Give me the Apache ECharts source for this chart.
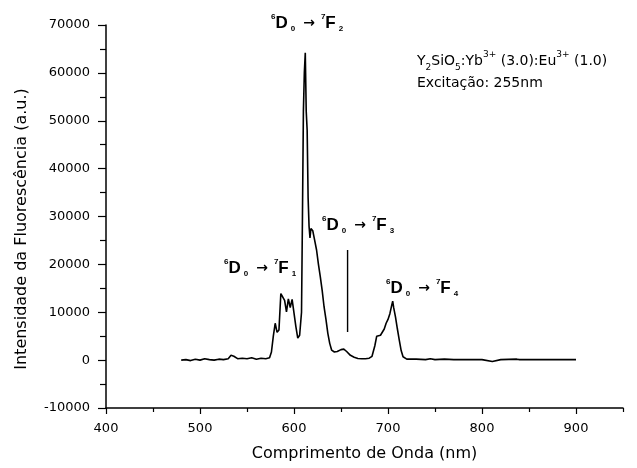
<!DOCTYPE html>
<html>
<head>
<meta charset="utf-8">
<script src="https://cdn.jsdelivr.net/npm/echarts@6/dist/echarts.min.js"></script>
<style>
  html, body { margin: 0; padding: 0; background: #fff; }
  #chart { width: 637px; height: 468px; }
</style>
</head>
<body>
<div id="chart"></div>
<script>
// Emission spectrum of Y2SiO5:Yb3+(3.0):Eu3+(1.0), excited at 255 nm
const wavelength = [
  480, 485, 490, 495, 500, 505, 510, 515, 520, 525, 530, 533, 536, 540, 545, 550, 555, 560, 565, 570,
  574, 576, 578, 580, 582, 584, 586, 588, 590, 592, 594, 596, 598, 600, 602, 604, 606, 608, 609, 610,
  611, 612, 613, 614, 615, 616, 617, 618, 619, 620, 621, 622, 624, 626, 628, 630, 632, 634, 636, 638,
  640, 643, 646, 650, 653, 656, 660, 664, 668, 672, 676, 680, 683, 686, 688, 690, 692, 694, 696, 698,
  700, 702, 704, 705, 706, 708, 710, 712, 714, 716, 718, 720, 730, 740, 745, 750, 760, 762, 770, 780,
  800, 811, 812, 820, 837, 840, 860, 880, 900
];
const intensity = [
  0, 100, -100, 200, 0, 300, 100, 0, 200, 100, 300, 1000, 800, 300, 400, 300, 500, 200, 400, 300,
  500, 1700, 5000, 7700, 5800, 6300, 13900, 13500, 12500, 10100, 12800, 11000, 12700, 12500, 7000, 4600, 5200, 10000, 30000, 52000,
  60000, 64200, 52000, 48000, 34000, 28000, 25500, 27500, 27800, 27000, 26000, 25000, 23000, 20000, 17400, 14500, 11100, 8500, 5600, 3500,
  2100, 1700, 1800, 2200, 2300, 1800, 1000, 600, 350, 300, 300, 400, 800, 3000, 5000, 4700, 5200, 5500, 6500, 7700,
  8500, 9700, 11500, 12300, 11000, 9000, 6500, 4200, 2000, 700, 400, 200, 200, 100, 300, 100, 200, 300, 100, 100,
  100, -300, 100, 100, 200, 100, 100, 100, 100
];

// Vertical guide drawn under the 5D0 -> 7F3 label
const guideWavelength = [657, 657];
const guideIntensity = [23000, 5900];

// Axis ticks
const xMajorTicks = [400, 500, 600, 700, 800, 900];
const xMinorTicks = [450, 550, 650, 750, 850, 950];
const yMajorTicks = [-10000, 0, 10000, 20000, 30000, 40000, 50000, 60000, 70000];
const yMinorTicks = [-5000, 5000, 15000, 25000, 35000, 45000, 55000, 65000];

// Final 7F level of each transition label
const transitionLevels = ['2', '1', '3', '4'];

const FONT = 'DejaVu Sans';
const LABEL_FONT = 'Liberation Sans';

const chart = echarts.init(document.getElementById('chart'), null, { renderer: 'canvas' });

const spectrum = wavelength.map((w, i) => [w, intensity[i]]);
const guide = guideWavelength.map((w, i) => [w, guideIntensity[i]]);

const richTransition = {
  sup: { fontSize: 8, fontFamily: LABEL_FONT, fontWeight: 'bold', lineHeight: 8, verticalAlign: 'top', color: '#000' },
  big: { fontSize: 17, fontFamily: LABEL_FONT, fontWeight: 'bold', lineHeight: 20, color: '#000' },
  sub: { fontSize: 8, fontFamily: LABEL_FONT, fontWeight: 'bold', lineHeight: 8, verticalAlign: 'bottom', color: '#000', padding: [0, 0, 0, 3] },
  arr: { fontSize: 14, fontFamily: 'DejaVu Sans', fontWeight: 'bold', lineHeight: 20, color: '#000', padding: [0, 6, 0, 8] }
};

function transitionLabel(level, x, y) {
  return {
    type: 'text',
    x: x,
    y: y,
    style: {
      text: '{sup|6}{big|D}{sub|0}{arr|→}{sup|7}{big|F}{sub|' + level + '}',
      rich: richTransition,
      verticalAlign: 'middle',
      align: 'left'
    }
  };
}

const labelAnchors = [[271, 23], [224, 268], [322, 225], [386, 288]];

const graphics = transitionLevels.map((lv, i) => transitionLabel(lv, labelAnchors[i][0], labelAnchors[i][1]));

const richFormula = {
  n: { fontSize: 14, fontFamily: FONT, lineHeight: 22, color: '#000' },
  s: { fontSize: 9, fontFamily: FONT, lineHeight: 9, verticalAlign: 'bottom', color: '#000' },
  p: { fontSize: 9, fontFamily: FONT, lineHeight: 9, verticalAlign: 'top', color: '#000' }
};

graphics.push({
  type: 'text',
  x: 417,
  y: 61,
  style: {
    text: '{n|Y}{s|2}{n|SiO}{s|5}{n|:Yb}{p|3+}{n| (3.0):Eu}{p|3+}{n| (1.0)}',
    rich: richFormula,
    verticalAlign: 'middle'
  }
});
graphics.push({
  type: 'text',
  x: 417,
  y: 83,
  style: {
    text: 'Excitação: 255nm',
    fontSize: 14,
    fontFamily: FONT,
    fill: '#000',
    verticalAlign: 'middle'
  }
});
graphics.push({
  type: 'text',
  x: 22,
  y: 229,
  rotation: Math.PI / 2,
  style: {
    text: 'Intensidade da Fluorescência (a.u.)',
    fontSize: 16,
    fontFamily: FONT,
    fill: '#000',
    align: 'center',
    verticalAlign: 'middle'
  }
});

const axisLineStyle = { color: '#000', width: 1.5 };
const plainNumber = v => String(v);

chart.setOption({
  animation: false,
  backgroundColor: '#fff',
  grid: { left: 106, right: 14, top: 25, bottom: 60, containLabel: false },
  xAxis: [
    {
      type: 'value', min: 400, max: 950, position: 'bottom',
      axisLine: { show: true, onZero: false, lineStyle: axisLineStyle },
      axisTick: { show: true, customValues: xMajorTicks, length: 6, lineStyle: { color: '#000', width: 1.2 } },
      axisLabel: { customValues: xMajorTicks, formatter: plainNumber, margin: 14, fontSize: 13, fontFamily: FONT, color: '#000' },
      splitLine: { show: false },
      name: 'Comprimento de Onda (nm)',
      nameLocation: 'middle',
      nameGap: 38,
      nameTextStyle: { fontSize: 16, fontFamily: FONT, color: '#000' }
    },
    {
      type: 'value', min: 400, max: 950, position: 'bottom', offset: 0,
      axisLine: { show: false, onZero: false },
      axisTick: { show: true, customValues: xMinorTicks, length: 4, lineStyle: { color: '#000', width: 1.2 } },
      axisLabel: { show: false },
      splitLine: { show: false }
    }
  ],
  yAxis: [
    {
      type: 'value', min: -10000, max: 70000, position: 'left',
      axisLine: { show: true, onZero: false, lineStyle: axisLineStyle },
      axisTick: { show: true, customValues: yMajorTicks, length: 8, lineStyle: { color: '#000', width: 1.2 } },
      axisLabel: { customValues: yMajorTicks, formatter: plainNumber, margin: 16, fontSize: 13, fontFamily: FONT, color: '#000' },
      splitLine: { show: false }
    },
    {
      type: 'value', min: -10000, max: 70000, position: 'left', offset: 0,
      axisLine: { show: false, onZero: false },
      axisTick: { show: true, customValues: yMinorTicks, length: 6, lineStyle: { color: '#000', width: 1.2 } },
      axisLabel: { show: false },
      splitLine: { show: false }
    }
  ],
  series: [
    {
      type: 'line', xAxisIndex: 0, yAxisIndex: 0,
      data: spectrum,
      showSymbol: false, symbol: 'none',
      lineStyle: { color: '#000', width: 1.6 },
      clip: false
    },
    {
      type: 'line', xAxisIndex: 0, yAxisIndex: 0,
      data: guide,
      showSymbol: false, symbol: 'none',
      lineStyle: { color: '#000', width: 1.4 }
    }
  ],
  graphic: graphics
});
</script>
</body>
</html>
